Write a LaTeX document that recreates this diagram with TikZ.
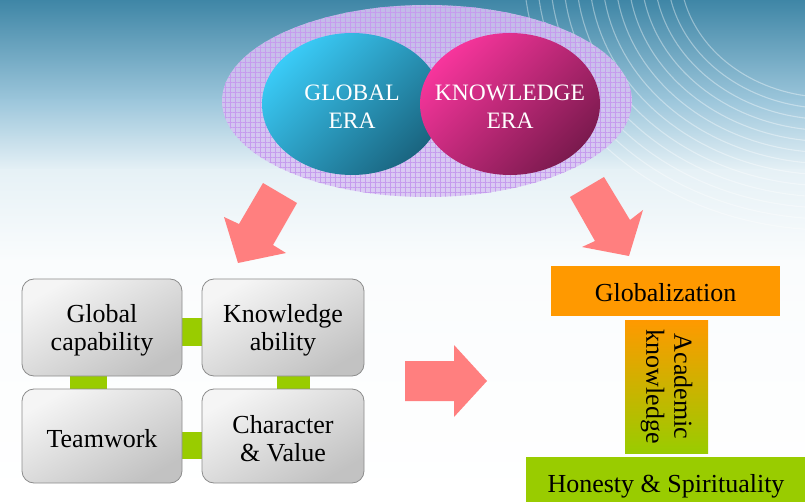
\documentclass[tikz,border=0pt]{standalone}
\usepackage{fontspec}
\setmainfont{Liberation Serif}
\usetikzlibrary{shapes.geometric,patterns.meta}
\definecolor{bgA}{RGB}{63,134,166}
\definecolor{bgB}{RGB}{156,198,219}
\definecolor{bgC}{RGB}{230,241,246}
\definecolor{bgD}{RGB}{250,252,253}
\definecolor{lav}{RGB}{216,196,243}
\definecolor{gridc}{RGB}{198,156,238}
\definecolor{bluehi}{RGB}{58,203,247}
\definecolor{bluelo}{RGB}{26,101,128}
\definecolor{pinkhi}{RGB}{247,53,156}
\definecolor{pinklo}{RGB}{123,26,78}
\definecolor{arrowc}{RGB}{255,127,127}
\definecolor{orng}{RGB}{255,153,0}
\definecolor{grn}{RGB}{153,204,0}
\definecolor{boxhi}{RGB}{245,245,245}
\definecolor{boxlo}{RGB}{194,194,194}
\definecolor{boxline}{RGB}{140,140,140}
\pgfdeclarelayer{back}
\pgfdeclarelayer{bg}
\pgfsetlayers{back,bg,main}
\begin{document}
\begin{tikzpicture}[x=1pt,y=-1pt,
  swirl/.style={white,opacity=0.38,line width=1.1pt},
  bigell/.style={ellipse,inner sep=0pt,minimum width=410pt,minimum height=192pt,
    fill=lav,fill opacity=0.85,
    postaction={pattern={Lines[distance=5pt,angle=0,line width=0.4pt]},pattern color=gridc},
    postaction={pattern={Lines[distance=5pt,angle=90,line width=0.4pt]},pattern color=gridc}},
  era/.style={ellipse,inner sep=0pt,minimum width=180pt,minimum height=142pt},
  eratext/.style={text=white,align=center,font=\fontsize{23.5}{28}\selectfont,yshift=-3pt},
  blockarrow/.style={fill=arrowc},
  graybox/.style={rectangle,rounded corners=12pt,draw=boxline,line width=0.8pt,
    top color=boxhi,bottom color=boxlo,shading angle=30},
  boxtext/.style={align=center,text=black,font=\fontsize{26}{28}\selectfont,yshift=-3pt},
  link/.style={grn,shorten <=-8pt,shorten >=-8pt},
  stackbox/.style={rectangle,inner sep=0pt},
  stacktext/.style={text=black,font=\fontsize{26}{28}\selectfont,yshift=-2pt}
]
\clip (0,0) rectangle (805,502);
\begin{pgfonlayer}{back}
\fill[white] (0,0) rectangle (805,502);
\shade[top color=bgA,bottom color=bgB] (0,0) rectangle (805,101);
\shade[top color=bgB,bottom color=bgC] (0,100) rectangle (805,171);
\shade[top color=bgC,bottom color=bgD] (0,170) rectangle (805,261);
\shade[top color=bgD,bottom color=white] (0,260) rectangle (805,502);
\foreach \r in {150,163,...,310}
  \draw[swirl] plot[domain=0:90,samples=40] ({830-\r*cos(\x)},{-30+0.85*\r*sin(\x)});
\end{pgfonlayer}

% top ellipses
\node[bigell] (cloud) at (427,101) {};
\node[era,top color=bluehi,bottom color=bluelo,shading angle=45,
  label={[eratext]center:{GLOBAL\\ERA}}] (global) at (352,104) {};
\node[era,top color=pinkhi,bottom color=pinklo,shading angle=45,
  label={[eratext]center:{KNOWLEDGE\\ERA}}] (knowledge) at (510,104) {};

% block arrows
\fill[blockarrow] (263,183) -- (239,224) -- (224,217) -- (238,263) -- (286,253) -- (273,245) -- (297,203) -- cycle;
\fill[blockarrow] (570,197) -- (595,241) -- (582,247) -- (629,256) -- (643,210) -- (630,220) -- (604,177) -- cycle;
\fill[blockarrow] (405,361) -- (454,361) -- (454,345) -- (487,381) -- (454,417) -- (454,401) -- (405,401) -- cycle;

% grid of competences
\node[graybox,minimum width=160pt,minimum height=97pt,
  label={[boxtext]center:{Global\\capability}}] (gc) at (102,327.5) {};
\node[graybox,minimum width=162pt,minimum height=97pt,
  label={[boxtext]center:{Knowledge\\ability}}] (ka) at (283,327.5) {};
\node[graybox,minimum width=160pt,minimum height=94pt,
  label={[boxtext]center:{Teamwork}}] (tw) at (102,436) {};
\node[graybox,minimum width=162pt,minimum height=94pt,
  label={[boxtext]center:{Character\\\& Value}}] (cv) at (283,436) {};
\begin{pgfonlayer}{bg}
\draw[link,line width=28pt] ([yshift=-4.5pt]gc.east) -- ([yshift=-4.5pt]ka.west);
\draw[link,line width=37pt] ([xshift=-14pt]gc.south) -- ([xshift=-14pt]tw.north);
\draw[link,line width=33pt] ([xshift=10pt]ka.south) -- ([xshift=10pt]cv.north);
\draw[link,line width=27pt] ([yshift=-9pt]tw.east) -- ([yshift=-9pt]cv.west);
\end{pgfonlayer}

% right stack
\node[stackbox,fill=orng,minimum width=229pt,minimum height=50pt,
  label={[stacktext]center:Globalization}] (glob) at (665.5,291) {};
\node[stackbox,top color=orng,bottom color=grn,minimum width=83pt,minimum height=133pt] (acad) at (666.5,386.5) {};
\node[stacktext,yshift=2pt,rotate=-90,align=center] (acadtxt) at (acad.center) {Academic\\knowledge};
\node[stackbox,fill=grn,minimum width=280pt,minimum height=54pt,
  label={[stacktext]center:{Honesty \& Spirituality}}] (hon) at (666,484) {};
\end{tikzpicture}
\end{document}
